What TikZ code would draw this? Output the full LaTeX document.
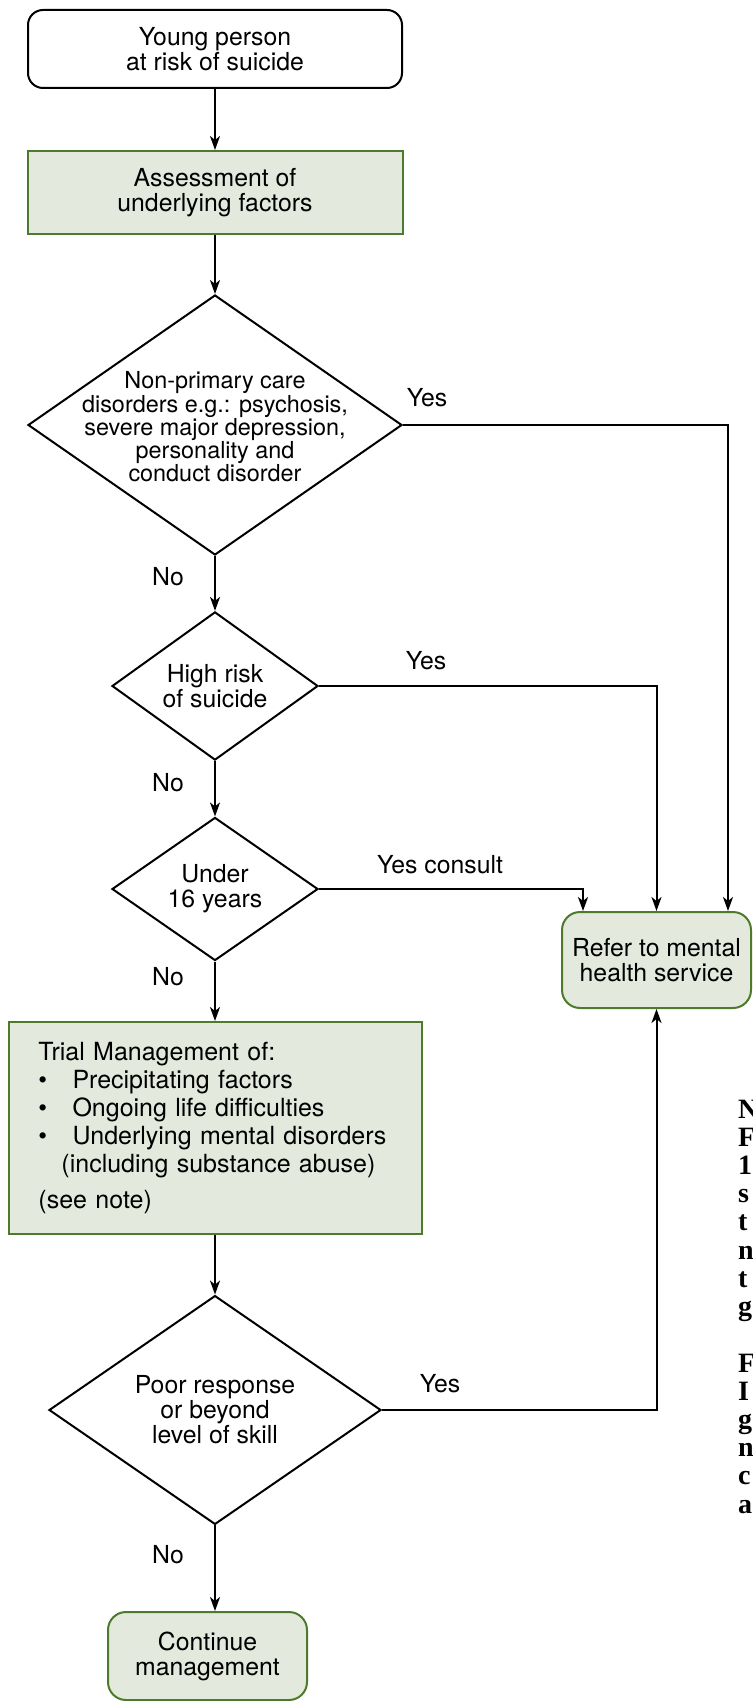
\documentclass[tikz,border=0pt]{standalone}
\usepackage{fontspec}
\setmainfont{TeX Gyre Heros}
\newfontfamily\notefont{Liberation Serif}
\usetikzlibrary{shapes.geometric,arrows.meta}
\definecolor{boxgreen}{RGB}{227,233,220}
\definecolor{edgegreen}{RGB}{78,122,44}

\begin{document}
\begin{tikzpicture}[x=1pt,y=1pt,font=\fontsize{12.4}{12.5}\selectfont,line width=1pt,
  arr/.style={-{Stealth[length=7pt,width=5pt,inset=2pt]}},
  startbox/.style={draw,rounded corners=7.5pt,align=center,inner sep=0pt},
  greenbox/.style={draw=edgegreen,fill=boxgreen,align=center,inner sep=0pt},
  decision/.style={draw,diamond,align=center,inner sep=0pt},
  notechar/.style={font=\notefont\bfseries\fontsize{14}{14.1}\selectfont,inner sep=0pt,anchor=base west}]

\useasboundingbox (0,0) rectangle (376,-850.5);

%Percorso principale

\node[startbox,minimum width=187pt,minimum height=39pt] (young) at (107.5,-24.5) {Young person\\at risk of suicide};
\node[greenbox,minimum width=187.5pt,minimum height=41.5pt] (assess) at (107.5,-96.25) {Assessment of\\underlying factors};

\node[decision,minimum width=187pt,minimum height=130pt] (nonprim) at (107.5,-212.5) {};
\node[align=center,font=\fontsize{11.7}{11.6}\selectfont] (nonprimtext) at (107.5,-213.5) {Non-primary care\\disorders e.g.: psychosis,\\severe major depression,\\personality and\\conduct disorder};

\node[decision,minimum width=103pt,minimum height=70.5pt] (highrisk) at (107.5,-343) {High risk\\of suicide};
\node[decision,minimum width=103pt,minimum height=70pt] (under) at (107.5,-444.5) {Under\\16 years};

\node[greenbox,align=left,text width=176.5pt,inner xsep=15pt,minimum height=106pt,
  font=\fontsize{12.5}{13.9}\selectfont] (trial) at (107.5,-564) {Trial Management of:\\
  \makebox[17pt][l]{\textbullet}Precipitating factors\\
  \makebox[17pt][l]{\textbullet}Ongoing life difficulties\\
  \makebox[17pt][l]{\textbullet}Underlying mental disorders\\
  \hspace*{11.5pt}(including substance abuse)\\[4.1pt]
  (see note)};

\node[decision,minimum width=166pt,minimum height=113pt] (poor) at (107.5,-705) {Poor response\\or beyond\\level of skill};
\node[greenbox,rounded corners=9pt,minimum width=99.5pt,minimum height=44pt] (cont) at (103.75,-828) {Continue\\management};

\node[greenbox,rounded corners=9pt,minimum width=94.5pt,minimum height=48pt] (refer) at (328.25,-480) {Refer to mental\\health service};

%Frecce

\draw[arr] (young) -- (assess);
\draw[arr] (assess) -- (nonprim);
\draw[arr] (nonprim) -- (highrisk);
\draw[arr] (highrisk) -- (under);
\draw[arr] (under) -- (trial);
\draw[arr] (trial) -- (poor);
\draw[arr] (poor.south) -- (poor.south |- cont.north);

\draw[arr] (nonprim.east) -| ([xshift=35.75pt]refer.north);
\draw[arr] (highrisk.east) -| (refer.north);
\draw[arr] (under.east) -| ([xshift=-36.75pt]refer.north);
\draw[arr] (poor.east) -| (refer.south);

\node (yes1) at (213.5,-199) {Yes};
\node (yes2) at (213,-330.5) {Yes};
\node (yes3) at (220,-432.5) {Yes consult};
\node (yes4) at (220,-692) {Yes};

\node (no1) at (84,-288.5) {No};
\node (no2) at (84,-391.5) {No};
\node (no3) at (84,-488.5) {No};
\node (no4) at (84,-777.5) {No};

%Nota

\foreach \ch [count=\i] in {N,F,1,s,t,n,t,g}
  \node[notechar] (note\i) at (368.5,{-559-14.1*(\i-1)}) {\ch};
\foreach \ch [count=\i] in {F,I,g,n,c,a}
  \node[notechar] (notes\i) at (368.5,{-686-14.1*(\i-1)}) {\ch};

\end{tikzpicture}
\end{document}
